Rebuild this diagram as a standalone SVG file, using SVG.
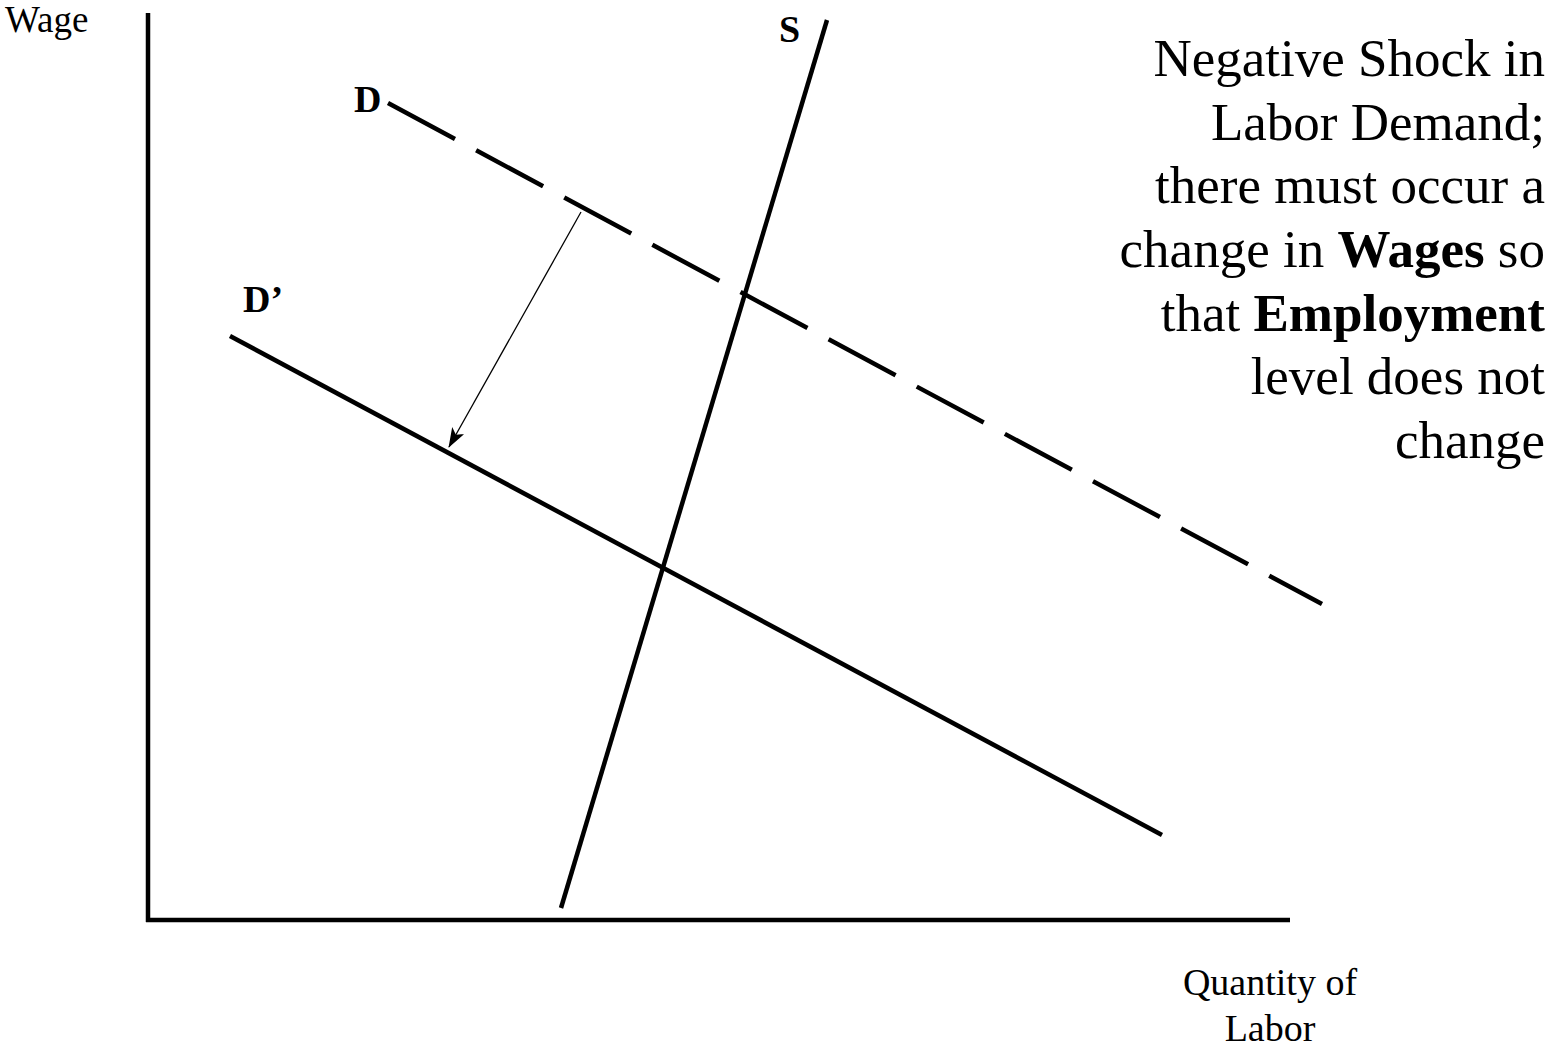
<svg xmlns="http://www.w3.org/2000/svg" width="1552" height="1049" viewBox="0 0 1552 1049">
<style>
.ln{stroke:#000;stroke-width:4.5;fill:none;stroke-linecap:butt}
.t{font-family:"Liberation Serif","Times New Roman",serif;fill:#000}
.lab{font-size:38px}
.b{font-weight:bold}
.big{font-size:53px;text-anchor:end}
</style>
<defs>
<marker id="ah" viewBox="0 0 20 14" refX="19" refY="7" markerWidth="20" markerHeight="14" markerUnits="userSpaceOnUse" orient="auto">
<path d="M0,0 L20,7 L0,14 L5,7 Z" fill="#000"/>
</marker>
</defs>
<rect width="1552" height="1049" fill="#fff"/>
<g id="axes">
<line class="ln" x1="148" y1="13" x2="148" y2="922"/>
<line class="ln" x1="146" y1="920" x2="1290" y2="920"/>
<text class="t" x="5" y="32" font-size="37">Wage</text>
<text class="t lab" x="1270" y="995" text-anchor="middle">Quantity of</text>
<text class="t lab" x="1270" y="1041" text-anchor="middle">Labor</text>
</g>
<g id="supply">
<line class="ln" x1="561" y1="908" x2="827" y2="20"/>
<text class="t lab b" x="779" y="42">S</text>
</g>
<g id="demand">
<line class="ln" x1="388" y1="103" x2="1322" y2="604" stroke-dasharray="76 24"/>
<text class="t lab b" x="354" y="112">D</text>
</g>
<g id="demand-new">
<line class="ln" x1="230" y1="336" x2="1162" y2="835"/>
<text class="t lab b" x="243" y="312">D’</text>
</g>
<g id="connectors">
<line x1="581" y1="212" x2="449" y2="447" stroke="#000" stroke-width="1.3" marker-end="url(#ah)"/>
</g>
<g id="note">
<text class="t big" x="1545" y="76">Negative Shock in</text>
<text class="t big" x="1545" y="140">Labor Demand;</text>
<text class="t big" x="1545" y="203">there must occur a</text>
<text class="t big" x="1545" y="267">change in <tspan class="b">Wages</tspan> so</text>
<text class="t big" x="1545" y="331">that <tspan class="b">Employment</tspan></text>
<text class="t big" x="1545" y="394">level does not</text>
<text class="t big" x="1545" y="458">change</text>
</g>
</svg>
